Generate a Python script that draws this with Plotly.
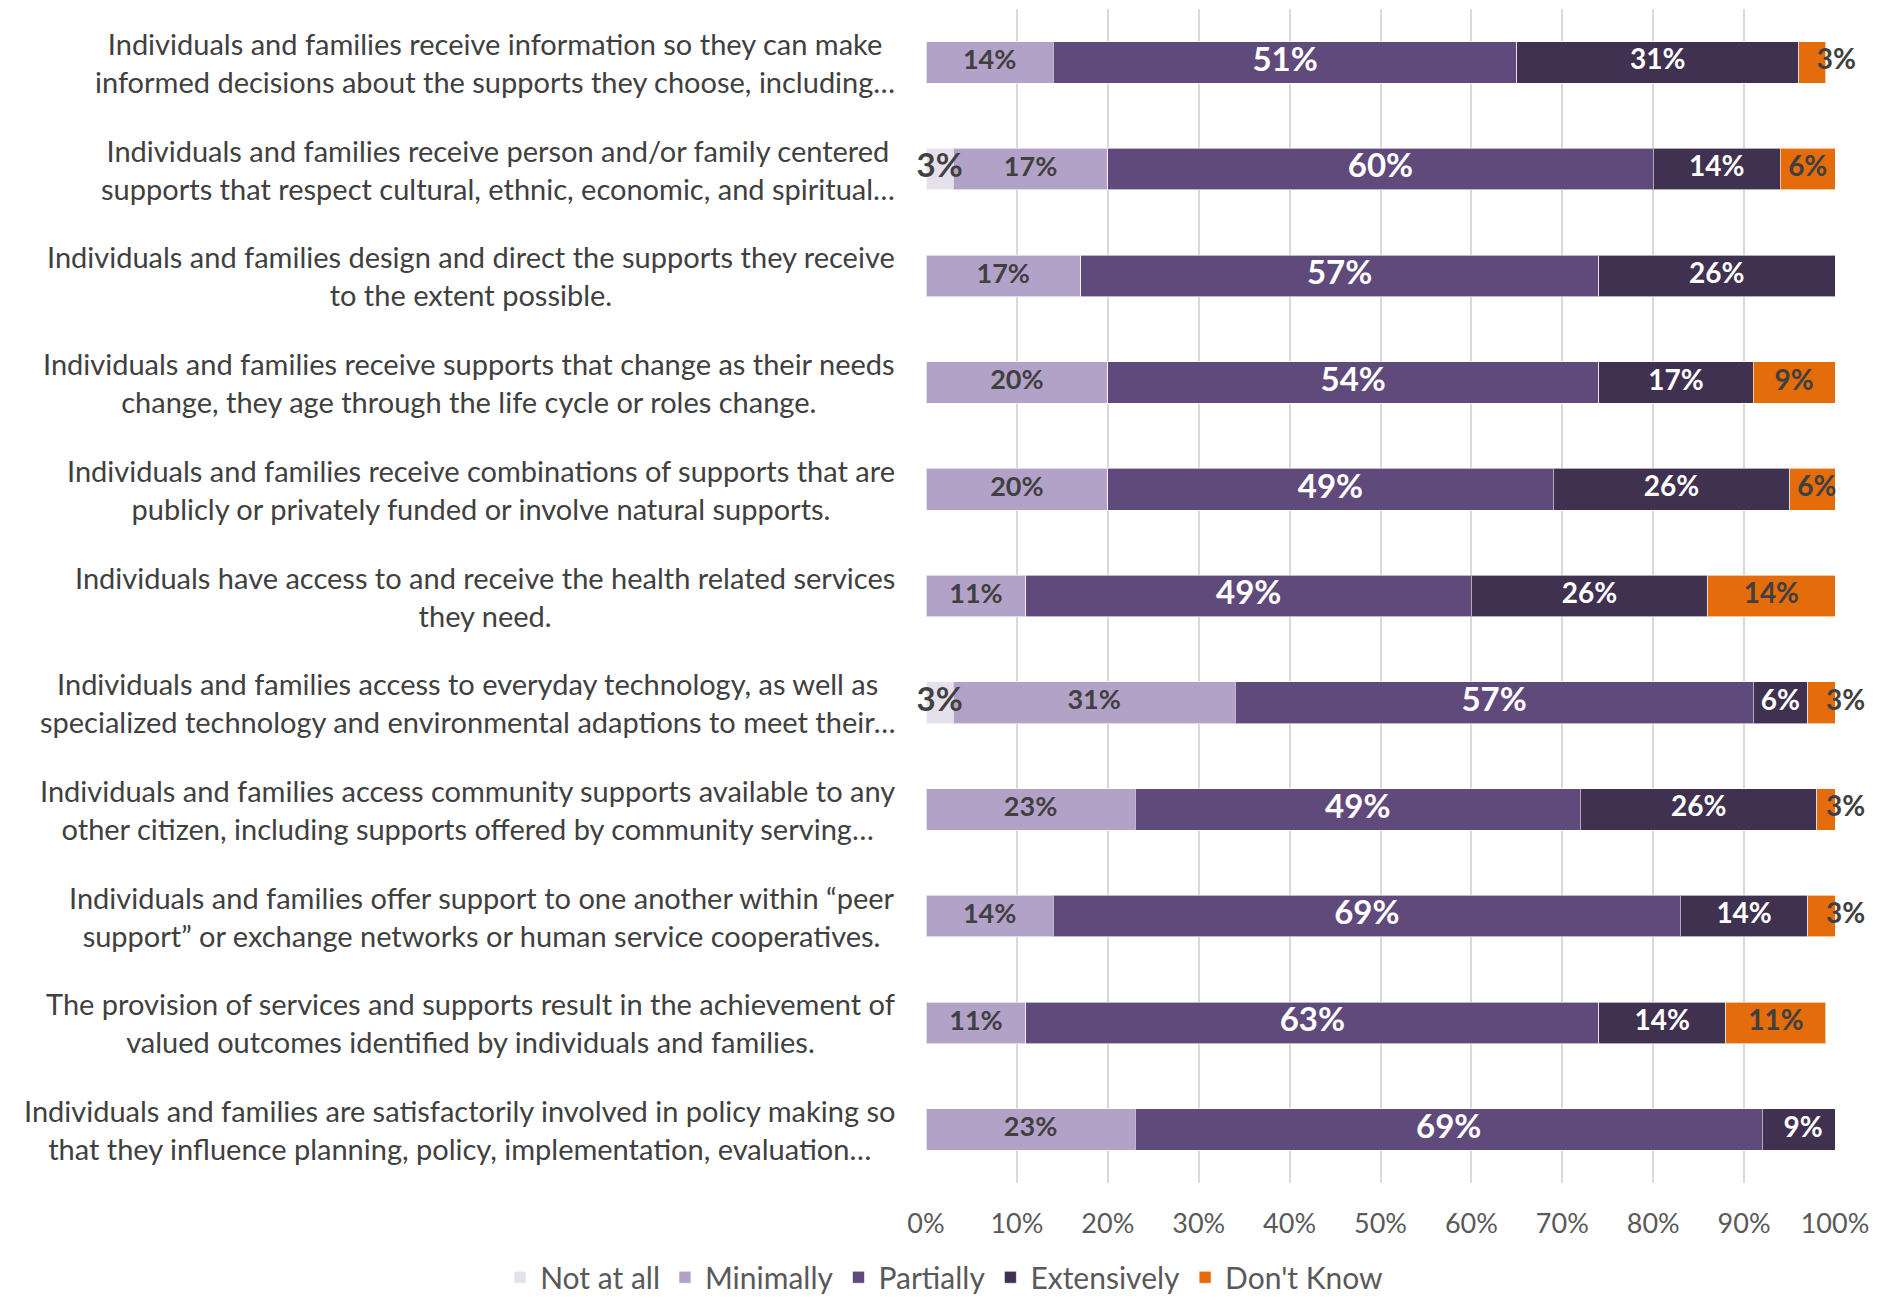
import numpy as np
import plotly.graph_objects as go

categories = [
    "Individuals and families receive information so they can make<br>informed decisions about the supports they choose, including…",
    "Individuals and families receive person and/or family centered<br>supports that respect cultural, ethnic, economic, and spiritual…",
    "Individuals and families design and direct the supports they receive<br>to the extent possible.",
    "Individuals and families receive supports that change as their needs<br>change, they age through the life cycle or roles change.",
    "Individuals and families receive combinations of supports that are<br>publicly or privately funded or involve natural supports.",
    "Individuals have access to and receive the health related services<br>they need.",
    "Individuals and families access to everyday technology, as well as<br>specialized technology and environmental adaptions to meet their…",
    "Individuals and families access community supports available to any<br>other citizen, including supports offered by community serving…",
    "Individuals and families offer support to one another within “peer<br>support” or exchange networks or human service cooperatives.",
    "The provision of services and supports result in the achievement of<br>valued outcomes identified by individuals and families.",
    "Individuals and families are satisfactorily involved in policy making so<br>that they influence planning, policy, implementation, evaluation…",
]

not_at_all = [0, 3, 0, 0, 0, 0, 3, 0, 0, 0, 0]
minimally = [14, 17, 17, 20, 20, 11, 31, 23, 14, 11, 23]
partially = [51, 60, 57, 54, 49, 49, 57, 49, 69, 63, 69]
extensively = [31, 14, 26, 17, 26, 26, 6, 26, 14, 14, 9]
dont_know = [3, 6, 0, 9, 6, 14, 3, 3, 3, 11, 0]

x_ticks = [0, 10, 20, 30, 40, 50, 60, 70, 80, 90, 100]

series = [
    ("Not at all", not_at_all, "#E6E0EC", "#404040", 33),
    ("Minimally", minimally, "#B3A2C7", "#404040", 27),
    ("Partially", partially, "#604A7B", "#FFFFFF", 33),
    ("Extensively", extensively, "#403151", "#FFFFFF", 28),
    ("Don't Know", dont_know, "#E46C0A", "#404040", 28),
]

FONT = "Lato"

fig = go.Figure()
for name, vals, color, tcolor, tsize in series:
    fig.add_trace(go.Bar(
        name=name,
        y=categories,
        x=vals,
        orientation="h",
        marker=dict(color=color, line=dict(color="rgba(255,255,255,0.6)", width=1)),
        hoverinfo="skip",
    ))

# data labels, placed on the segments via the x axis
vals_matrix = np.array([s[1] for s in series], dtype=float)
ends = np.cumsum(vals_matrix, axis=0)
starts = ends - vals_matrix
centres = (starts + ends) / 2
last = len(series) - 1
for i, (name, vals, color, tcolor, tsize) in enumerate(series):
    cx, cy, ct = [], [], []   # centred labels
    rx, ry, rt = [], [], []   # small end labels spilling right
    for j, v in enumerate(vals):
        if v == 0:
            continue
        if i == last and v <= 3:
            rx.append(min(ends[i, j], 100) - 1)
            ry.append(categories[j])
            rt.append(f"{v}%")
        else:
            cx.append(min(centres[i, j], 100))
            cy.append(categories[j])
            ct.append(f"{v}%")
    for xs, ys, ts, pos in ((cx, cy, ct, "middle center"), (rx, ry, rt, "middle right")):
        if not xs:
            continue
        fig.add_trace(go.Scatter(
            x=xs, y=ys, text=ts, mode="text",
            textposition=pos,
            textfont=dict(family=FONT, size=tsize, color=tcolor, weight="bold"),
            showlegend=False, hoverinfo="skip", cliponaxis=False,
        ))

for cat in categories:
    fig.add_annotation(
        x=0, xref="paper", xshift=-29, xanchor="right",
        y=cat, yref="y", yanchor="middle",
        text=cat, showarrow=False, align="center",
        font=dict(family=FONT, size=29, color="#404040"),
    )

fig.update_layout(
    barmode="stack",
    bargap=0.61,
    width=1877,
    height=1302,
    margin=dict(l=926, r=42, t=9, b=119),
    paper_bgcolor="white",
    plot_bgcolor="white",
    font=dict(family=FONT, color="#595959"),
    legend=dict(
        orientation="h",
        xref="container", yref="container",
        x=0.503, xanchor="center",
        y=0.019, yanchor="middle",
        font=dict(family=FONT, size=30, color="#595959"),
        traceorder="normal",
        itemwidth=30,
    ),
    showlegend=True,
)
fig.update_xaxes(
    range=[0, 100],
    tickvals=x_ticks,
    ticktext=[f"{t}%" for t in x_ticks],
    showgrid=True,
    gridcolor="#D9D9D9",
    gridwidth=2,
    zeroline=False,
    showline=False,
    tickfont=dict(family=FONT, size=27, color="#595959"),
    ticklabelstandoff=22,
)
fig.update_yaxes(
    range=[len(categories) - 0.5, -0.5],
    showticklabels=False,
    showgrid=False,
    zeroline=False,
    showline=False,
)

fig.write_html("out.html")
